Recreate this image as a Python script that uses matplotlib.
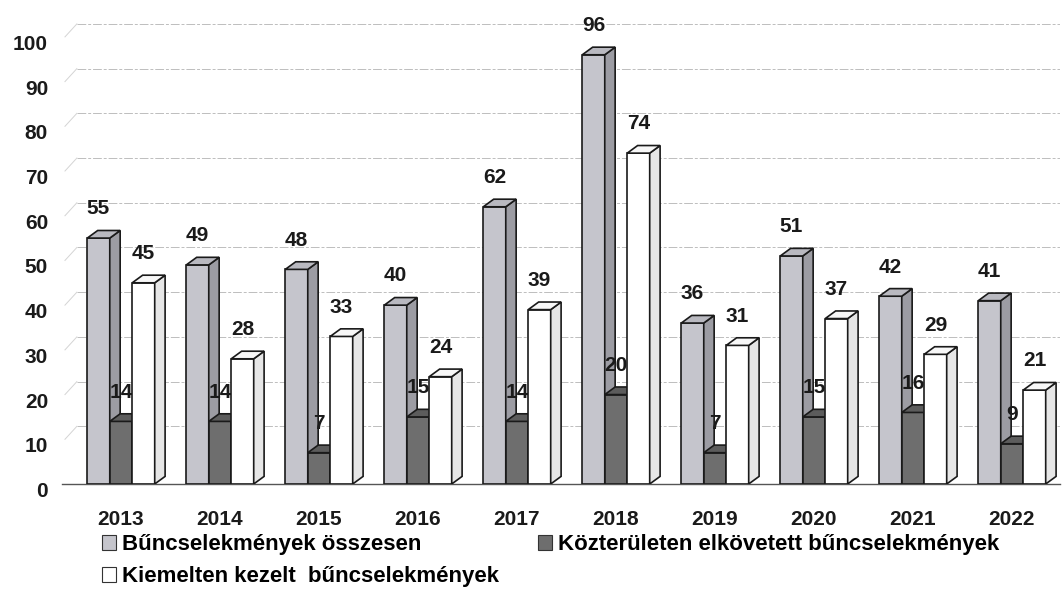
import matplotlib
matplotlib.use("Agg")
import matplotlib.pyplot as plt
from matplotlib.patches import Polygon, Patch
from matplotlib.transforms import ScaledTranslation

years = ["2013", "2014", "2015", "2016", "2017", "2018", "2019", "2020", "2021", "2022"]
total = [55, 49, 48, 40, 62, 96, 36, 51, 42, 41]
public = [14, 14, 7, 15, 14, 20, 7, 15, 16, 9]
priority = [45, 28, 33, 24, 39, 74, 31, 37, 29, 21]
series_names = ["Bűncselekmények összesen",
                "Közterületen elkövetett bűncselekmények",
                "Kiemelten kezelt  bűncselekmények"]
yticks = [0, 10, 20, 30, 40, 50, 60, 70, 80, 90, 100]

plt.rcParams['font.family'] = ['Liberation Sans', 'DejaVu Sans']
plt.rcParams['font.weight'] = 'bold'

fig = plt.figure(figsize=(10.64, 5.89), dpi=100)
ax = fig.add_axes([62/1064, 105/589, 998/1064, 465/589])
ax.set_xlim(-0.596, 9.485)
ax.set_ylim(0, 104)
for s in ax.spines.values():
    s.set_visible(False)

W = 0.227
DX = 0.105   # depth in x units
DY = 1.7     # depth in y units
WDX = 0.15   # back wall offset
WDY = 2.9

# back wall gridlines
x0, x1 = ax.get_xlim()
for t in yticks[1:]:
    ax.plot([x0 + WDX, x1], [t + WDY, t + WDY], color='#bdbdbd', lw=0.7,
            ls=(0, (9, 2, 3, 2)), zorder=0)
    ax.plot([x0 + 0.03, x0 + WDX], [t, t + WDY], color='#d4d4d4', lw=0.7, zorder=0)
ax.plot([x0, x1], [0, 0], color='#555555', lw=1.0, zorder=1, clip_on=False)

styles = [
    dict(front='#c5c5cc', top='#b9b9c0', side='#9c9ca3'),
    dict(front='#6e6e6e', top='#5c5c5c', side='#4c4c4c'),
    dict(front='#ffffff', top='#f7f7f7', side='#e6e6e6'),
]
offsets = [-W, 0.0, W]
data = [total, public, priority]
xs = list(range(len(years)))
ec = '#1a1a1a'
lw = 1.2

for si, (vals, off, st) in enumerate(zip(data, offsets, styles)):
    z = 3 + si
    bars = ax.bar([x + off for x in xs], vals, width=W, color=st['front'],
                  edgecolor=ec, linewidth=lw, zorder=z)
    for b, v in zip(bars, vals):
        l = b.get_x(); r = l + b.get_width(); h = b.get_height()
        top = Polygon([(l, h), (r, h), (r + DX, h + DY), (l + DX, h + DY)],
                      closed=True, fc=st['top'], ec=ec, lw=lw, zorder=z)
        side = Polygon([(r, 0), (r + DX, DY), (r + DX, h + DY), (r, h)],
                       closed=True, fc=st['side'], ec=ec, lw=lw, zorder=z)
        ax.add_patch(side)
        ax.add_patch(top)
        ax.annotate(str(v), (l + b.get_width() / 2, h), xytext=(0, 21),
                    textcoords='offset points', ha='center', va='center',
                    fontsize=15, fontweight='bold', color='#1a1a1a',
                    zorder=z + 0.5, annotation_clip=False)

ax.set_xticks(xs)
ax.set_xticklabels(years, fontsize=15, fontweight='bold', color='#1a1a1a')
ax.set_yticks(yticks)
ax.set_yticklabels([str(t) for t in yticks], fontsize=15, fontweight='bold', color='#1a1a1a')
ax.tick_params(axis='both', length=0)
ax.tick_params(axis='x', pad=19)
ax.tick_params(axis='y', pad=10)
for lab in ax.get_yticklabels():
    lab.set_transform(lab.get_transform() + ScaledTranslation(0, -4/72, fig.dpi_scale_trans))

hA = Patch(fc=styles[0]['front'], ec='#333333', lw=0.8, label=series_names[0])
hB = Patch(fc=styles[1]['front'], ec='#333333', lw=0.8, label=series_names[1])
hC = Patch(fc=styles[2]['front'], ec='#333333', lw=0.8, label=series_names[2])
common = dict(loc='upper left', frameon=False, handlelength=0.65, handleheight=0.65,
              handletextpad=0.25, labelspacing=0.5, borderpad=0, borderaxespad=0,
              prop={'weight': 'bold', 'size': 16})
fig.legend(handles=[hA, hC], bbox_to_anchor=(102/1064, 1 - 534/589), **common)
fig.legend(handles=[hB], bbox_to_anchor=(538/1064, 1 - 534/589), **common)

fig.savefig("out.png", dpi=100)
